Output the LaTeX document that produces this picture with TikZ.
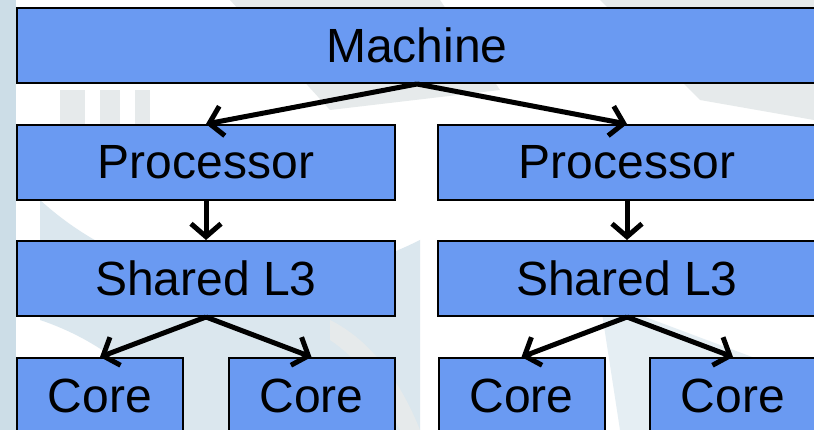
\documentclass[tikz,border=0pt]{standalone}
\usepackage{fontspec}
\setmainfont{Liberation Sans}
\usetikzlibrary{arrows.meta}
\definecolor{boxblue}{HTML}{6A9AF2}
\definecolor{wmblue}{HTML}{CCDDE7}
\definecolor{wmgray}{HTML}{E6EAEB}
\tikzset{
  box/.style={draw=black, line width=2pt, fill=boxblue, inner sep=0pt,
    minimum height=75pt, font=\fontsize{48}{50}\selectfont},
  wide/.style={minimum width=378pt},
  corebox/.style={minimum width=166pt},
  link/.style={line width=5pt, -{Straight Barb[length=13pt,width=30pt,line width=5pt]}, shorten >=0pt}
}
\begin{document}
\begin{tikzpicture}[x=1pt,y=1pt]
\useasboundingbox (0,-430) rectangle (814,0);
\begin{scope}
\clip (0,-430) rectangle (814,0);
\fill[white] (0,-430) rectangle (814,0);
% faint watermark
\fill[wmblue] (0,0) rectangle (16,-430);
\fill[wmgray] (230,0) -- (440,0) -- (500,-90) -- (330,-110) -- cycle;
\fill[wmgray] (600,0) -- (814,0) -- (814,-120) -- (700,-100) -- cycle;
\fill[wmblue!70!white] (40,-200) .. controls (150,-300) and (300,-300) .. (420,-240) -- (420,-430) -- (180,-430) .. controls (150,-380) and (100,-340) .. (40,-320) -- cycle;
\fill[wmblue!50!white] (600,-300) .. controls (680,-330) and (760,-360) .. (814,-380) -- (814,-430) -- (620,-430) -- cycle;
\fill[wmgray] (60,-90) rectangle (85,-125);
\fill[wmgray] (100,-90) rectangle (120,-125);
\fill[wmgray] (135,-90) rectangle (150,-125);
\fill[wmgray] (330,-320) .. controls (370,-340) and (400,-380) .. (420,-430) -- (400,-430) .. controls (380,-390) and (360,-360) .. (330,-340) -- cycle;
\end{scope}
\node[box, minimum width=800pt] (m) at (417,-45.5) {Machine};
\node[box, wide] (p1) at (206,-162.5) {Processor};
\node[box, wide] (p2) at (627,-162.5) {Processor};
\node[box, wide] (l1) at (206,-278.5) {Shared L3};
\node[box, wide] (l2) at (627,-278.5) {Shared L3};
\node[box, corebox] (c1) at (100,-395.5) {Core};
\node[box, corebox] (c2) at (311.5,-395.5) {Core};
\node[box, corebox] (c3) at (521.5,-395.5) {Core};
\node[box, corebox] (c4) at (733,-395.5) {Core};
\draw[link] (m.south) -- (p1.north);
\draw[link] (m.south) -- (p2.north);
\draw[link] (p1.south) -- (l1.north);
\draw[link] (p2.south) -- (l2.north);
\draw[link] (l1.south) -- (c1.north);
\draw[link] (l1.south) -- (c2.north);
\draw[link] (l2.south) -- (c3.north);
\draw[link] (l2.south) -- (c4.north);
\end{tikzpicture}
\end{document}
